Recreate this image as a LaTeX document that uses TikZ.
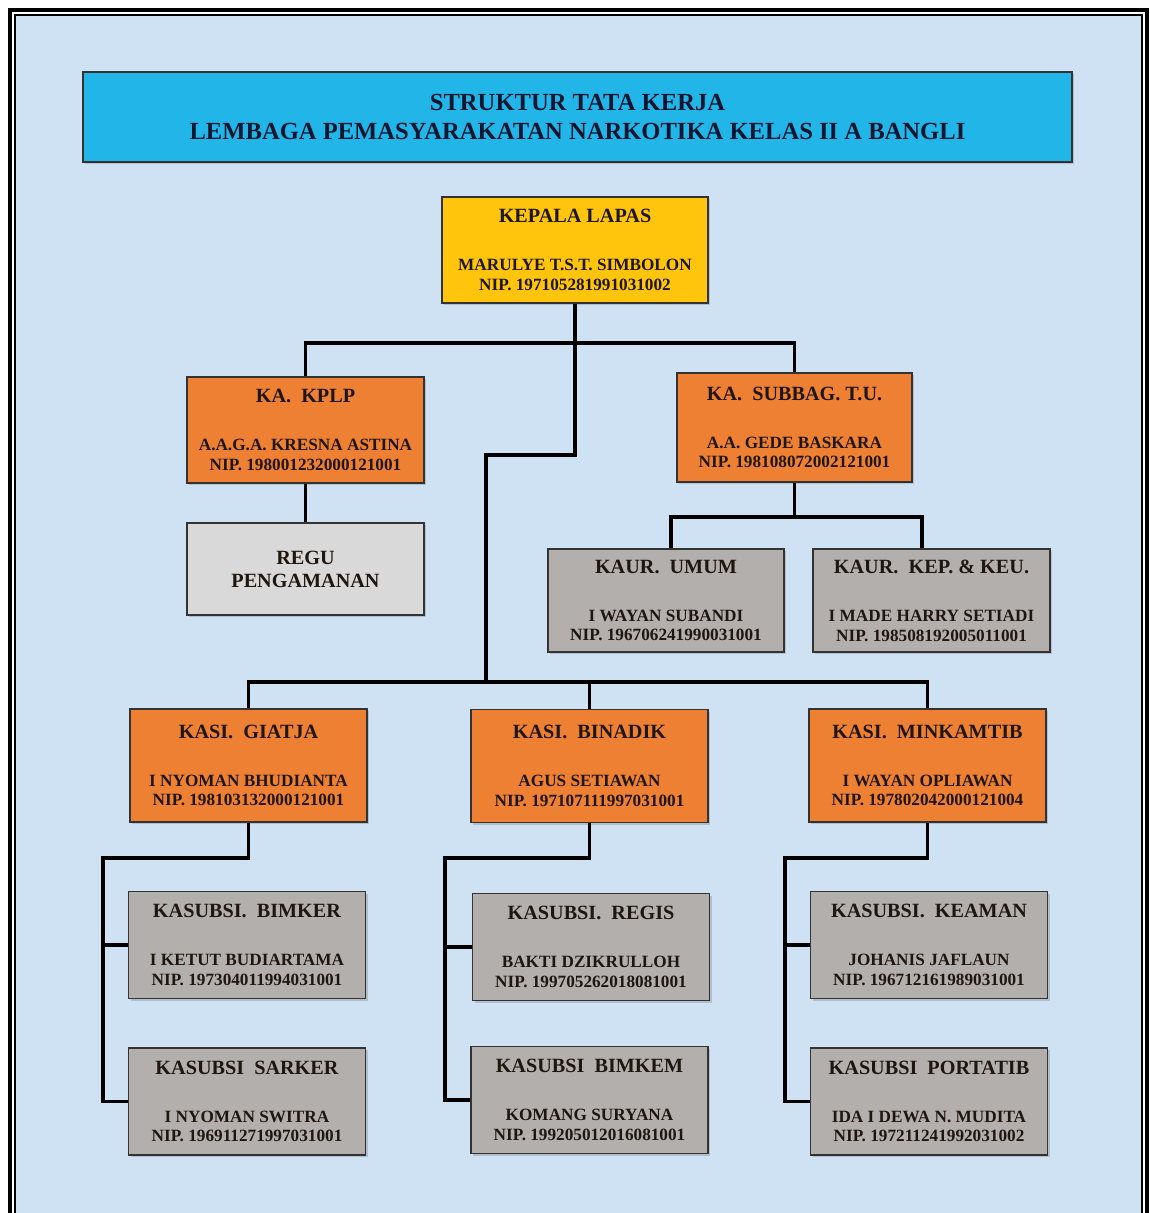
\documentclass[tikz,border=0pt]{standalone}
\usepackage{fontspec}
\setmainfont{Liberation Serif}
\usetikzlibrary{positioning,shadows}

\definecolor{lapasbg}{RGB}{206,226,244}
\definecolor{judulcyan}{RGB}{34,182,232}
\definecolor{kalapasgold}{RGB}{255,196,12}
\definecolor{kasiorange}{RGB}{238,128,52}
\definecolor{regugray}{RGB}{217,217,217}
\definecolor{kaurgray}{RGB}{178,175,172}
\definecolor{tekscol}{RGB}{32,22,16}
\definecolor{judulteks}{RGB}{10,22,48}

\newcommand{\jabatan}[1]{{\fontsize{11.5}{13}\selectfont #1}\\[16pt]}

\begin{document}
\begin{tikzpicture}[x=0.02cm,y=-0.02cm,
  kotak/.style={draw=black!80,line width=0.9pt,inner sep=0pt,align=center,
    text=tekscol,font=\bfseries\fontsize{9.8}{11.3}\selectfont,
    minimum width=4.74cm,minimum height=2.14cm,
    drop shadow={shadow xshift=1.2pt,shadow yshift=-1.2pt,opacity=0.35}},
  kasikotak/.style={kotak,fill=kasiorange,minimum height=2.26cm},
  kaurkotak/.style={kotak,fill=kaurgray},
  garis/.style={line width=2.2pt,black}]

  \useasboundingbox (0,0) rectangle (1149,1213);
  \clip (0,0) rectangle (1149,1213);
  \fill[white] (0,0) rectangle (1149,1213);
  \fill[lapasbg] (15,15) rectangle (1142,1225);
  \draw[line width=2.3pt] (10,10) rectangle (1147,1230);
  \draw[line width=1.5pt] (15,15) rectangle (1142,1225);

  % judul
  \node[kotak,fill=judulcyan,minimum width=19.78cm,minimum height=1.8cm,
    text=judulteks,font=\bfseries\fontsize{14}{16.4}\selectfont] (judul) at (577.5,117)
    {STRUKTUR TATA KERJA\\LEMBAGA PEMASYARAKATAN NARKOTIKA KELAS II A BANGLI};

  % pimpinan
  \node[kotak,fill=kalapasgold,minimum width=5.32cm,minimum height=2.12cm] (kalapas) at (575,250)
    {\jabatan{KEPALA LAPAS}MARULYE T.S.T. SIMBOLON\\NIP. 197105281991031002};

  \node[kotak,fill=kasiorange,minimum height=2.12cm] (kplp) at (305.5,430)
    {\jabatan{KA.\ \ KPLP}A.A.G.A. KRESNA ASTINA\\NIP. 198001232000121001};
  \node[kotak,fill=regugray,minimum height=1.84cm,font=\bfseries\fontsize{11.5}{13}\selectfont] (regu) at (305.5,569)
    {REGU\\PENGAMANAN};
  \node[kotak,fill=kasiorange,minimum width=4.70cm,minimum height=2.18cm] (subbag) at (794.5,427.5)
    {\jabatan{KA.\ \ SUBBAG.\ T.U.}A.A. GEDE BASKARA\\NIP. 198108072002121001};

  \node[kaurkotak,minimum width=4.72cm,minimum height=2.06cm] (kaurumum) at (666,600.5)
    {\jabatan{KAUR.\ \ UMUM}I WAYAN SUBANDI\\NIP. 196706241990031001};
  \node[kaurkotak,minimum height=2.06cm] (kaurkeu) at (931.5,600.5)
    {\jabatan{KAUR.\ \ KEP. \& KEU.}I MADE HARRY SETIADI\\NIP. 198508192005011001};

  % seksi
  \node[kasikotak] (giatja) at (248.5,765.5)
    {\jabatan{KASI.\ \ GIATJA}I NYOMAN BHUDIANTA\\NIP. 198103132000121001};
  \node[kasikotak] (binadik) at (589.5,766)
    {\jabatan{KASI.\ \ BINADIK}AGUS SETIAWAN\\NIP. 197107111997031001};
  \node[kasikotak] (minkamtib) at (927.5,765.5)
    {\jabatan{KASI.\ \ MINKAMTIB}I WAYAN OPLIAWAN\\NIP. 197802042000121004};

  % subseksi
  \node[kaurkotak] (bimker) at (247,945)
    {\jabatan{KASUBSI.\ \ BIMKER}I KETUT BUDIARTAMA\\NIP. 197304011994031001};
  \node[kaurkotak] (sarker) at (247,1101.5)
    {\jabatan{KASUBSI\ \ SARKER}I NYOMAN SWITRA\\NIP. 196911271997031001};
  \node[kaurkotak] (regis) at (591,947)
    {\jabatan{KASUBSI.\ \ REGIS}BAKTI DZIKRULLOH\\NIP. 199705262018081001};
  \node[kaurkotak] (bimkem) at (589.5,1100)
    {\jabatan{KASUBSI\ \ BIMKEM}KOMANG SURYANA\\NIP. 199205012016081001};
  \node[kaurkotak] (keaman) at (929,945)
    {\jabatan{KASUBSI.\ \ KEAMAN}JOHANIS JAFLAUN\\NIP. 196712161989031001};
  \node[kaurkotak] (portatib) at (929,1101.5)
    {\jabatan{KASUBSI\ \ PORTATIB}IDA I DEWA N. MUDITA\\NIP. 197211241992031002};

  % garis
  \coordinate (atas) at (575,343);
  \coordinate (belok) at (486,455);
  \coordinate (kasibus) at (486,682);
  \coordinate (kaurbus) at (794.5,517);
  \draw[garis] (kalapas.south) -- (atas);
  \draw[garis] (kplp.north) |- (atas) -| (subbag.north);
  \draw[garis] (atas) |- (belok) -- (kasibus);
  \draw[garis] (giatja.north) |- (kasibus) -| (minkamtib.north);
  \draw[garis] (binadik.north) -- (binadik.north |- kasibus);
  \draw[garis] (kplp.south) -- (regu.north);
  \draw[garis] (subbag.south) -- (kaurbus);
  \draw[garis] ([xshift=0.1cm]kaurumum.north) |- (kaurbus) -| ([xshift=-0.19cm]kaurkeu.north);
  \foreach \kasi/\a/\b in {giatja/bimker/sarker, binadik/regis/bimkem, minkamtib/keaman/portatib}{
    \draw[garis] (\kasi.south) -- ++(0,35) -| ([xshift=-0.5cm]\b.west) -- (\b.west);
    \draw[garis] ([xshift=-0.5cm]\a.west) -- (\a.west);
  }
\end{tikzpicture}
\end{document}
